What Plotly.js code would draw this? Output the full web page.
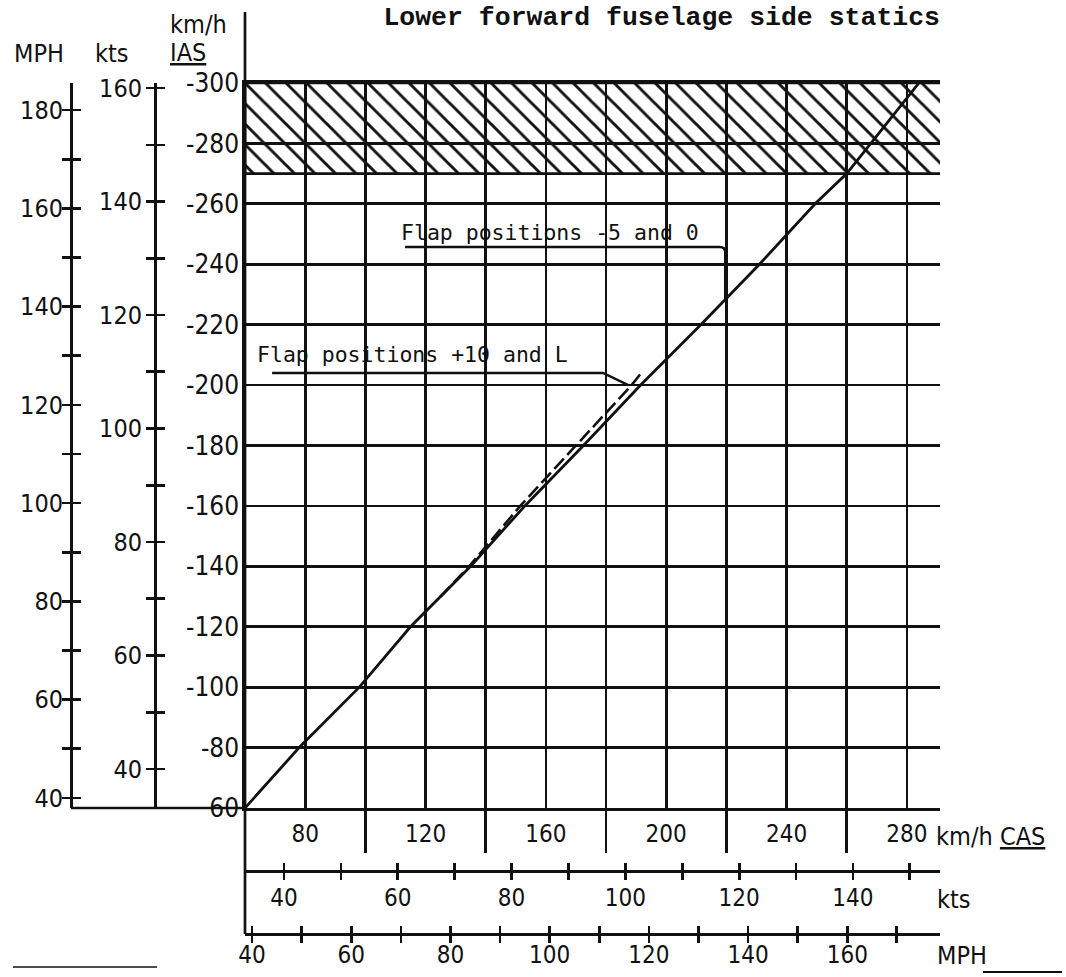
<!DOCTYPE html>
<html><head><meta charset="utf-8">
<script src="https://cdn.plot.ly/plotly-3.0.1.min.js"></script>
<style>html,body{margin:0;padding:0;background:#fff}#chart{width:1066px;height:977px}</style>
</head><body><div id="chart"></div>
<script>
// ---- data (km/h CAS vs km/h IAS) ----
const calCAS = [60, 78, 98, 115, 135, 153, 172.5, 191.5, 211.5, 231, 249.5, 260, 268, 284];
const calIAS = [60, 80, 100, 120, 140, 160, 180, 200, 220, 240, 260, 270, 280, 300];
const flapCAS = [125, 134.5, 151.5, 170, 188.5, 191.3];
const flapIAS = [130, 140, 160, 180, 200, 203.5];
const hatchCAS = [60, 291];
const hatchIAS = [270, 300];

// ---- tick labels ----
const iasTickVals = [60, 80, 100, 120, 140, 160, 180, 200, 220, 240, 260, 280, 300];
const iasTickText = ['60', '-80', '-100', '-120', '-140', '-160', '-180', '-200', '-220', '-240', '-260', '-280', '-300'];
const casTickVals = [80, 120, 160, 200, 240, 280];
const casTickText = ['80', '120', '160', '200', '240', '280'];
const casSepVals = [100, 140, 180, 220, 260];
const ktsYVals = [40, 50, 60, 70, 80, 90, 100, 110, 120, 130, 140, 150, 160];
const ktsYText = ['40', '', '60', '', '80', '', '100', '', '120', '', '140', '', '160'];
const mphYVals = [40, 50, 60, 70, 80, 90, 100, 110, 120, 130, 140, 150, 160, 170, 180];
const mphYText = ['40', '', '60', '', '80', '', '100', '', '120', '', '140', '', '160', '', '180'];
const ktsXVals = [40, 50, 60, 70, 80, 90, 100, 110, 120, 130, 140, 150];
const ktsXText = ['40', '', '60', '', '80', '', '100', '', '120', '', '140', ''];
const mphXVals = [40, 50, 60, 70, 80, 90, 100, 110, 120, 130, 140, 150, 160, 170];
const mphXText = ['40', '', '60', '', '80', '', '100', '', '120', '', '140', '', '160', ''];

// ---- axis ranges (as printed) ----
const casRange = [60, 291];
const iasRange = [60, 300];
const ktsYRange = [33.13, 160.9];
const mphYRange = [37.96, 185.5];
const ktsXRange = [33.15, 155.3];
const mphXRange = [38.57, 178.7];

const W = 1066, H = 977;
const px = v => v / W;
const py = v => 1 - v / H;
const ink = '#111';
const LW = 2.7;
const FAM = 'Liberation Sans Narrow, DejaVu Sans Condensed, Arial Narrow, sans-serif';
const mainYFont = {family: FAM, size: 26, color: ink};
const sideFont = {family: FAM, size: 25, color: ink};
const botFont = {family: FAM, size: 24, color: ink};
const monoFont = {family: 'DejaVu Sans Mono, Liberation Mono, monospace', size: 21.5, color: ink};

const traces = [
  {x: [hatchCAS[1], hatchCAS[0], hatchCAS[0], hatchCAS[1]], y: [hatchIAS[0], hatchIAS[0], hatchIAS[1], hatchIAS[1]],
   mode: 'lines', fill: 'toself', fillcolor: 'rgba(0,0,0,0)',
   fillpattern: {shape: '\\', size: 14.5, solidity: 0.2, fgcolor: ink, fgopacity: 1, bgcolor: 'rgba(255,255,255,0)', fillmode: 'overlay'},
   line: {color: ink, width: LW}, hoverinfo: 'skip'},
  {x: calCAS, y: calIAS, mode: 'lines', line: {color: ink, width: 2.8}, hoverinfo: 'skip'},
  {x: flapCAS, y: flapIAS, mode: 'lines', line: {color: ink, width: 2.6, dash: '14px,5px'}, hoverinfo: 'skip'},
  {x: [], y: [], xaxis: 'x', yaxis: 'y2', hoverinfo: 'skip'},
  {x: [], y: [], xaxis: 'x', yaxis: 'y3', hoverinfo: 'skip'},
  {x: [], y: [], xaxis: 'x', yaxis: 'y4', hoverinfo: 'skip'},
  {x: [], y: [], xaxis: 'x', yaxis: 'y5', hoverinfo: 'skip'},
  {x: [], y: [], xaxis: 'x2', yaxis: 'y', hoverinfo: 'skip'},
  {x: [], y: [], xaxis: 'x3', yaxis: 'y', hoverinfo: 'skip'},
  {x: [], y: [], xaxis: 'x4', yaxis: 'y', hoverinfo: 'skip'},
  {x: [], y: [], xaxis: 'x5', yaxis: 'y', hoverinfo: 'skip'}
];

function sideY(range, vals, text, pos, ticks, labels, standoff) {
  return {overlaying: 'y', anchor: 'free', position: pos, side: 'left', range: range, autorange: false,
    tickmode: 'array', tickvals: vals, ticktext: text, ticks: ticks, ticklen: 8, tickwidth: LW, tickcolor: ink,
    showticklabels: labels, tickfont: sideFont, ticklabelstandoff: standoff, showline: true, linewidth: LW, linecolor: ink,
    showgrid: false, zeroline: false, fixedrange: true};
}
function bottomX(range, vals, text, pos, ticks, labels, standoff) {
  return {overlaying: 'x', anchor: 'free', position: pos, side: 'bottom', range: range, autorange: false,
    tickmode: 'array', tickvals: vals, ticktext: text, ticks: ticks, ticklen: 7, tickwidth: LW, tickcolor: ink,
    showticklabels: labels, tickfont: botFont, ticklabelstandoff: standoff, showline: true, linewidth: LW, linecolor: ink,
    showgrid: false, zeroline: false, fixedrange: true};
}
function note(text, x, y, xanchor) {
  return {text: text, x: px(x), y: py(y), xref: 'paper', yref: 'paper', xanchor: xanchor || 'center', yanchor: 'middle',
    showarrow: false, font: sideFont};
}

const layout = {
  width: W, height: H, margin: {l: 0, r: 0, t: 0, b: 0},
  paper_bgcolor: '#fff', plot_bgcolor: '#fff', showlegend: false,
  title: {text: '<b>Lower forward fuselage side statics</b>', xref: 'paper', yref: 'paper',
    x: px(940), xanchor: 'right', y: py(16), yanchor: 'middle',
    font: {family: 'Liberation Mono, Courier New, monospace', size: 26.5, color: ink}},
  xaxis: {domain: [px(245), px(940)], range: casRange, autorange: false, tickmode: 'array',
    tickvals: casTickVals, ticktext: casTickText, ticks: '', tickfont: botFont, ticklabelstandoff: 2,
    showline: true, linewidth: LW, linecolor: ink, mirror: true,
    showgrid: true, gridcolor: ink, gridwidth: LW, zeroline: false, fixedrange: true,
    minor: {tickmode: 'array', tickvals: casSepVals, ticks: 'outside', ticklen: 42, tickwidth: LW, tickcolor: ink,
      showgrid: true, gridcolor: ink, gridwidth: LW}},
  yaxis: {domain: [py(808), py(83)], range: iasRange, autorange: false, tickmode: 'array',
    tickvals: iasTickVals, ticktext: iasTickText, ticks: '', tickfont: mainYFont, ticklabelstandoff: -2,
    showline: true, linewidth: LW, linecolor: ink,
    showgrid: true, gridcolor: ink, gridwidth: LW, zeroline: false, fixedrange: true},
  yaxis2: sideY(ktsYRange, ktsYVals, ktsYText, px(155), 'outside', true, -1),
  yaxis3: sideY(ktsYRange, ktsYVals, ktsYText, px(155), 'inside', false, 0),
  yaxis4: sideY(mphYRange, mphYVals, mphYText, px(71), 'outside', true, -6),
  yaxis5: sideY(mphYRange, mphYVals, mphYText, px(71), 'inside', false, 0),
  xaxis2: bottomX(ktsXRange, ktsXVals, ktsXText, py(871), 'outside', true, -3),
  xaxis3: bottomX(ktsXRange, ktsXVals, ktsXText, py(871), 'inside', false, 0),
  xaxis4: bottomX(mphXRange, mphXVals, mphXText, py(934), 'outside', true, -9),
  xaxis5: bottomX(mphXRange, mphXVals, mphXText, py(934), 'inside', false, 0),
  annotations: [
    {text: 'Flap positions -5 and 0', x: 111.2, y: 250.6, xref: 'x', yref: 'y', xanchor: 'left', yanchor: 'middle', showarrow: false, font: monoFont},
    {text: 'Flap positions +10 and L', x: 63.3, y: 210.2, xref: 'x', yref: 'y', xanchor: 'left', yanchor: 'middle', showarrow: false, font: monoFont},
    note('MPH', 39, 53),
    note('kts', 112, 53),
    note('km/h', 198, 25),
    note('<u>IAS</u>', 188, 52),
    note('km/h <u>CAS</u>', 934, 836, 'left'),
    note('kts', 935, 899, 'left'),
    note('MPH', 935, 955, 'left')
  ],
  shapes: [
    {type: 'line', xref: 'paper', yref: 'paper', x0: px(245), x1: px(245), y0: py(12), y1: py(934), line: {color: ink, width: LW}},
    {type: 'line', xref: 'paper', yref: 'paper', x0: px(71), x1: px(245), y0: py(808), y1: py(808), line: {color: ink, width: LW}},
    {type: 'line', xref: 'paper', yref: 'paper', x0: px(983), x1: px(1062), y0: py(972), y1: py(972), line: {color: ink, width: 2}},
    {type: 'line', xref: 'paper', yref: 'paper', x0: px(13), x1: px(157), y0: py(967), y1: py(967), line: {color: ink, width: 1.5}},
    {type: 'path', xref: 'x', yref: 'y', path: 'M 113.2 245.7 L 217.8 245.7 Q 219.6 245.7 219.6 244 L 219.6 228.5', line: {color: ink, width: 2.4}},
    {type: 'path', xref: 'x', yref: 'y', path: 'M 69 204 L 179 204 L 187.4 200', line: {color: ink, width: 2.4}}
  ]
};

Plotly.newPlot('chart', traces, layout, {staticPlot: true, displayModeBar: false});
</script>
</body></html>
